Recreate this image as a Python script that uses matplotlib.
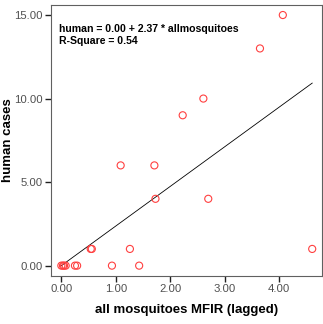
import numpy as np
import matplotlib.pyplot as plt

# values
mfir = [0.00, 0.03, 0.05, 0.08, 0.25, 0.29, 0.93, 1.43,
        0.54, 0.56, 1.26, 4.61,
        1.73, 2.70, 1.09, 1.71, 2.23, 2.61, 3.65, 4.07]
cases = [0, 0, 0, 0, 0, 0, 0, 0,
         1, 1, 1, 1,
         4, 4, 6, 6, 9, 10, 13, 15]
intercept, slope = 0.00, 2.37
xticks = [0, 1, 2, 3, 4]
yticks = [0, 5, 10, 15]

plt.rcParams['font.family'] = ['Liberation Sans', 'DejaVu Sans']

fig = plt.figure(figsize=(3.23, 3.24), dpi=100)
ax = fig.add_axes([51/323, 48/324, 271/323, 271/324])

ax.scatter(mfir, cases, s=26, facecolors='none', edgecolors='#ff4040', linewidths=0.8, zorder=3)
xl = np.array([min(mfir), max(mfir)])
ax.plot(xl, intercept + slope*xl, color='black', lw=0.6)

ax.text(0.03, 0.93, "human = 0.00 + 2.37 * allmosquitoes\nR-Square = 0.54", transform=ax.transAxes,
        fontsize=7.6, fontweight='bold', va='top', ha='left', linespacing=1.3)

ax.set_xlim(-0.19, 4.79)
ax.set_ylim(-0.62, 15.6)
ax.set_xticks(xticks)
ax.set_xticklabels(["%.2f" % v for v in xticks])
ax.set_yticks(yticks)
ax.set_yticklabels(["%.2f" % v for v in yticks])
ax.tick_params(direction='out', length=4, width=1, color='#202020', labelsize=8.2, labelcolor='#505050', pad=2)
for s in ax.spines.values():
    s.set_color('#606060')
    s.set_linewidth(0.8)

ax.set_xlabel("all mosquitoes MFIR (lagged)", fontsize=9.5, fontweight='bold', labelpad=7)
ax.set_ylabel("human cases", fontsize=9.5, fontweight='bold')
ax.yaxis.set_label_coords(-0.138, 0.5)

fig.savefig("out.png", dpi=100)
